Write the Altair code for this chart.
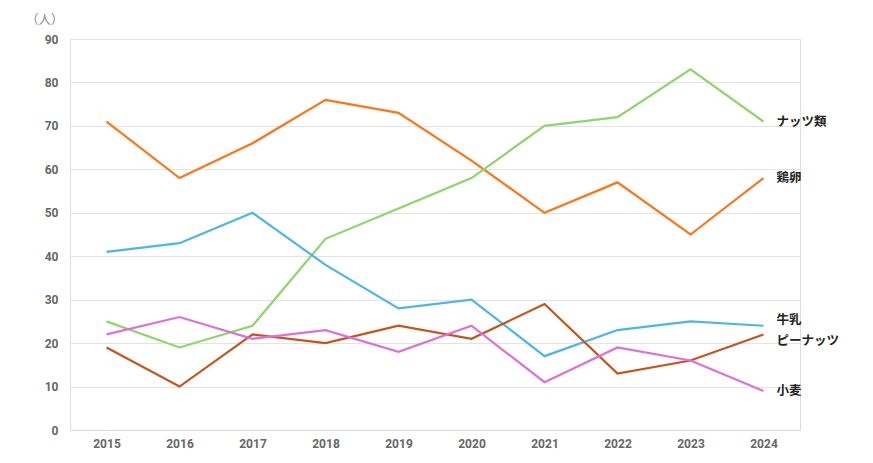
import altair as alt
import pandas as pd

years = ["2015", "2016", "2017", "2018", "2019", "2020", "2021", "2022", "2023", "2024"]
series_names = ["鶏卵", "ナッツ類", "牛乳", "ピーナッツ", "小麦"]
egg = [71, 58, 66, 76, 73, 62, 50, 57, 45, 58]
nuts = [25, 19, 24, 44, 51, 58, 70, 72, 83, 71]
milk = [41, 43, 50, 38, 28, 30, 17, 23, 25, 24]
peanut = [19, 10, 22, 20, 24, 21, 29, 13, 16, 22]
wheat = [22, 26, 21, 23, 18, 24, 11, 19, 16, 9]
colors = ["#FF7414", "#8CD66A", "#4DB5E8", "#C9521A", "#DE6FD6"]
label_shift = ["mid", "mid", "up", "down", "mid"]

values = [egg, nuts, milk, peanut, wheat]
rows = []
for name, vals in zip(series_names, values):
    for y, v in zip(years, vals):
        rows.append({"year": y, "series": name, "value": v})
df = pd.DataFrame(rows)

labels = pd.DataFrame({
    "year": [years[-1]] * len(series_names),
    "series": series_names,
    "value": [v[-1] for v in values],
    "shift": label_shift,
})

x_enc = alt.X("year:N", sort=years, scale=alt.Scale(type="point", padding=0.5),
              axis=alt.Axis(title=None, labelAngle=0, labelFont="Roboto", labelFontSize=12,
                            labelFontWeight="bold", labelColor="#666666", domainColor="#d9d9d9",
                            ticks=False, labelPadding=8, grid=False))
y_enc = alt.Y("value:Q", scale=alt.Scale(domain=[0, 90], nice=False),
              axis=alt.Axis(values=list(range(0, 91, 10)), title="（人）", titleAngle=0,
                            titleX=-7, titleY=-20, titleBaseline="middle",
                            titleFont="Noto Sans CJK JP",
                            titleFontSize=12.5, titleFontWeight="normal", titleColor="#8a8a8a",
                            titleAlign="right", labelFont="Roboto", labelFontSize=12,
                            labelFontWeight="bold", labelColor="#666666", labelPadding=12,
                            domain=False, ticks=False, gridColor="#e3e3e3"))
color_enc = alt.Color("series:N", scale=alt.Scale(domain=series_names, range=colors), legend=None)

lines = alt.Chart(df).mark_line(strokeWidth=2.2).encode(
    x=x_enc, y=y_enc, color=color_enc, detail="series:N"
)

def label_layer(shift, dy):
    return alt.Chart(labels).transform_filter(
        alt.datum.shift == shift
    ).mark_text(align="left", baseline="middle", dx=13, dy=dy,
                font="Noto Sans CJK JP", fontSize=12.5, fontWeight="bold",
                color="#222222").encode(
        x=alt.X("year:N", sort=years),
        y=alt.Y("value:Q"),
        text="series:N",
    )

chart = alt.layer(
    lines, label_layer("mid", 0), label_layer("up", -6), label_layer("down", 7)
).properties(
    width=730, height=391,
    padding={"left": 62, "top": 31, "right": 60, "bottom": 20},
    autosize=alt.AutoSizeParams(type="none"),
).configure_view(stroke=None).configure(background="white")

chart.save("out.html", embed_options={"renderer": "svg", "actions": False})
